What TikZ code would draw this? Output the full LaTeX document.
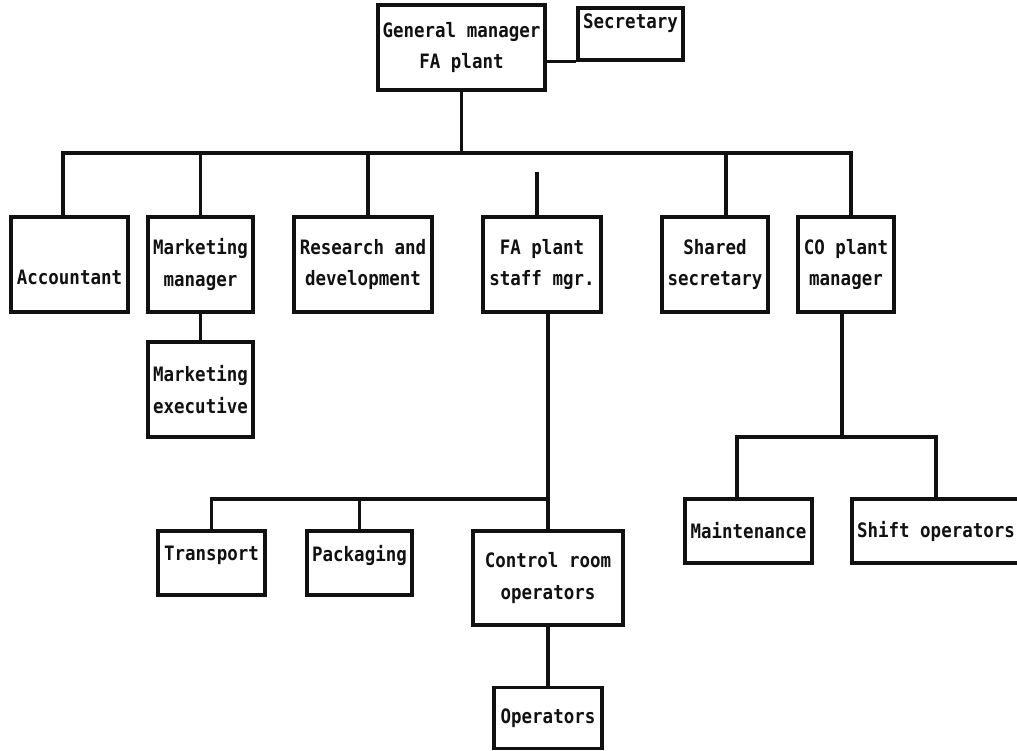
\documentclass[tikz,border=0pt]{standalone}
\usepackage{fontspec}
\setmonofont{DejaVu Sans Mono}[FakeStretch=0.88]
\definecolor{ink}{HTML}{111111}

\begin{document}
\begin{tikzpicture}[font=\fontsize{11.3}{18}\selectfont\ttfamily\bfseries,text=ink,
    post/.style={draw=ink,line width=1.9pt,inner sep=0pt,align=center},
    link/.style={draw=ink,line width=1.9pt}]
  \useasboundingbox (0,0) rectangle (20.34,-15.02);
  % top level
  \node[post,minimum width=3.34cm,minimum height=1.70cm] (gm) at (9.23,-0.95) {General manager\\FA plant};
  \node[post,minimum width=2.10cm,minimum height=1.04cm,text depth=0.5cm] (sec) at (12.61,-0.68) {Secretary};
  % second row
  \node[post,minimum width=2.34cm,minimum height=1.90cm,text height=0.82cm] (acc) at (1.39,-5.29) {Accountant};
  \node[post,minimum width=2.10cm,minimum height=1.90cm] (mkt) at (4.01,-5.29) {Marketing\\manager};
  \node[post,minimum width=2.76cm,minimum height=1.90cm] (rd) at (7.26,-5.29) {Research and\\development};
  \node[post,minimum width=2.36cm,minimum height=1.90cm] (fa) at (10.84,-5.29) {FA plant\\staff mgr.};
  \node[post,minimum width=2.12cm,minimum height=1.90cm] (shs) at (14.30,-5.29) {Shared\\secretary};
  \node[post,minimum width=1.92cm,minimum height=1.90cm] (co) at (16.92,-5.29) {CO plant\\manager};
  \node[post,minimum width=2.10cm,minimum height=1.90cm] (mexec) at (4.01,-7.79) {Marketing\\executive};
  % lower rows
  \node[post,minimum width=2.14cm,minimum height=1.28cm,text depth=0.4cm] (trans) at (4.23,-11.26) {Transport};
  \node[post,minimum width=2.10cm,minimum height=1.28cm,text depth=0.4cm] (pack) at (7.19,-11.26) {Packaging};
  \node[post,minimum width=3.00cm,minimum height=1.88cm] (ctrl) at (10.96,-11.56) {Control room\\operators};
  \node[post,minimum width=2.16cm,minimum height=1.22cm] (ops) at (10.96,-14.36) {Operators};
  \node[post,minimum width=2.54cm,minimum height=1.28cm] (maint) at (14.97,-10.62) {Maintenance};
  \node[post,minimum width=3.36cm,minimum height=1.28cm] (shiftop) at (18.72,-10.62) {Shift operators};

  % connectors
  \coordinate (bus) at (9.23,-3.06);
  \draw[link] (sec.south west) -- (sec.south west -| gm.east);
  \draw[link] (gm.south) -- (bus);
  \draw[link] ([xshift=-0.13cm]acc.north) |- (bus) -| ([xshift=0.1cm]co.north);
  \foreach \n/\dx in {mkt/0,rd/0.1,shs/0.22}
    \draw[link] ([xshift=\dx cm]\n.north) |- (bus);
  \draw[link] (mkt.south) -- (mexec.north);
  \coordinate (stub) at (10.74,-3.44);
  \draw[link] (stub) -- (stub |- fa.north);

  \coordinate (fabus) at (10.96,-9.98);
  \draw[link] (fabus |- fa.south) -- (ctrl.north);
  \draw[link] (trans.north) |- (fabus);
  \draw[link] (pack.north) |- (fabus);
  \draw[link] (ctrl.south) -- (ops.north);

  \coordinate (cobus) at (16.84,-8.74);
  \draw[link] (cobus |- co.south) -- (cobus);
  \draw[link] ([xshift=-0.23cm]maint.north) |- (cobus) -| (shiftop.north);
\end{tikzpicture}
\end{document}
